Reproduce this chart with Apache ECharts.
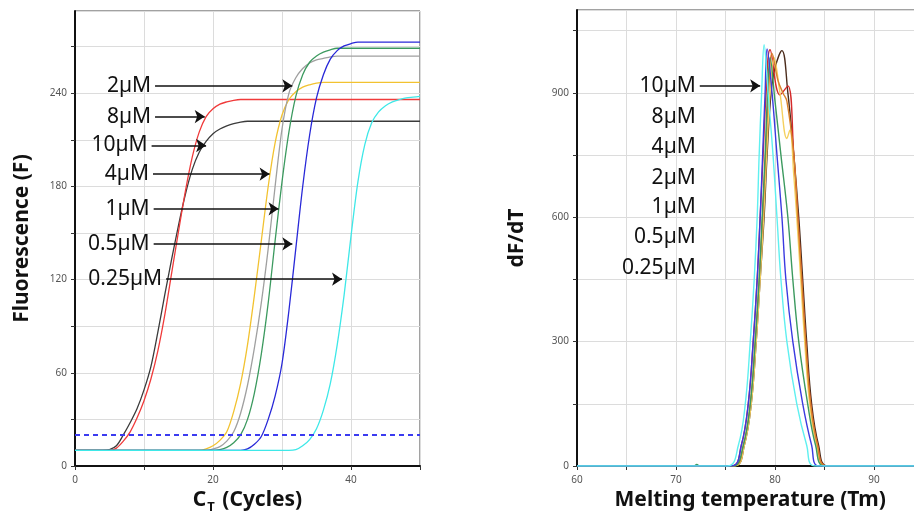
<!DOCTYPE html>
<html>
<head>
<meta charset="utf-8">
<script src="https://cdn.jsdelivr.net/npm/echarts@6/dist/echarts.min.js"></script>
<style>
  html, body { margin: 0; background: #fff; }
  #main { width: 914px; height: 514px; }
</style>
</head>
<body>
<div id="main"></div>
<script>
// concentrations, same order for both panels
const concs = ['10µM', '8µM', '4µM', '2µM', '1µM', '0.5µM', '0.25µM'];

// amplification curves: [cycle, fluorescence]
const amp10 = [[0,10],[4,10],[5,10.5],[6,13],[7,20],[8,28],[9,37],[10,49],[11,64],[12,86],[13,110],[14,133],[15,155],[16,175],[17,191],[18,202],[19,209],[20,214],[21,217],[22,219],[23,220.5],[24,221.5],[25,222],[50,222]];
const amp8 = [[0,10],[5,10],[6,11.5],[7,16],[8,22],[9,31],[10,42],[11,56],[12,74],[13,97],[14,124],[15,151],[16,177],[17,199],[18,215],[19,225],[20,230],[21,233],[22,234.5],[23,235.5],[24,236],[50,236]];
const amp4 = [[0,10],[18,10],[19,11],[20,13],[21,16.5],[22,22],[23,35],[24,53],[25,78],[26,110],[27,145],[28,180],[29,208],[30,226],[31,236],[32,241],[33,244],[34,245.5],[35,246.5],[36,247],[50,247]];
const amp2 = [[0,10],[19,10],[20,11],[21,12.5],[22,16],[23,22],[24,34],[25,52],[26,76],[27,105],[28,140],[29,180],[30,217],[31,240],[32,250],[33,256],[34,259.5],[35,261.5],[36,262.5],[37,263.5],[38,264],[50,264]];
const amp1 = [[0,10],[20,10],[21,10.5],[22,12],[23,15],[24,20],[25,30],[26,47],[27,72],[28,105],[29,145],[30,183],[31,215],[32,238],[33,252],[34,260],[35,264],[36,266.5],[37,268],[38,269],[50,269]];
const amp05 = [[0,10],[24,10],[25,11],[26,14],[27,19],[28,30],[29,45],[30,66],[31,100],[32,140],[33,180],[34,213],[35,237],[36,252],[37,262],[38,267.5],[39,270.5],[40,272],[41,273],[50,273]];
const amp025 = [[0,10],[31,10],[32,10.5],[33,13],[34,17],[35,24],[36,36],[37,53],[38,78],[39,110],[40,148],[41,183],[42,207],[43,221],[44,228],[45,232],[46,234.5],[47,236],[48,237],[49,237.5],[50,238]];
const threshold = 20;

// melt curves: [temperature, dF/dT]
const melt10 = [[60,0],[75.9,0],[76.9,50],[77.6,150],[78.1,300],[78.5,450],[78.9,600],[79.2,750],[79.6,900],[80,960],[80.7,1002],[81.3,900],[81.9,750],[82.4,600],[82.8,450],[83.2,300],[83.7,150],[84.4,50],[85.3,0],[95,0]];
const melt8 = [[60,0],[75.6,0],[76.6,50],[77.3,150],[77.8,300],[78.2,450],[78.5,600],[78.8,750],[79.1,900],[79.5,1004],[80.5,895],[81.3,917],[81.9,750],[82.3,600],[82.7,450],[83.1,300],[83.6,150],[84.3,50],[85.2,0],[95,0]];
const melt4 = [[60,0],[75.9,0],[76.9,50],[77.6,150],[78.1,300],[78.5,450],[78.85,600],[79.15,750],[79.5,900],[79.9,985],[80.5,900],[81.2,790],[81.5,810],[81.9,700],[82.2,600],[82.6,450],[83,300],[83.5,150],[84.2,50],[85,0],[95,0]];
const melt2 = [[60,0],[75.8,0],[76.8,50],[77.5,150],[78,300],[78.4,450],[78.75,600],[79.05,750],[79.35,900],[79.7,995],[80.3,930],[80.8,900],[81.2,880],[81.9,750],[82.3,600],[82.7,450],[83.1,300],[83.6,150],[84.3,50],[85.2,0],[95,0]];
const melt1 = [[60,0],[71.8,0],[72.1,4],[72.4,0],[75.8,0],[76.8,50],[77.5,150],[78,300],[78.4,450],[78.7,600],[79,750],[79.25,900],[79.5,985],[80,880],[80.6,750],[81.3,600],[81.8,450],[82.4,300],[83.3,150],[84.1,50],[85,0],[95,0]];
const melt05 = [[60,0],[75.6,0],[76.6,50],[77.3,150],[77.8,300],[78.2,450],[78.5,600],[78.75,750],[79,900],[79.2,1006],[79.7,900],[80.2,750],[80.7,600],[81.1,450],[81.8,300],[82.8,150],[83.7,50],[84.4,0],[95,0]];
const melt025 = [[60,0],[75.2,0],[76.3,50],[77,150],[77.5,300],[77.9,450],[78.2,600],[78.4,750],[78.65,900],[78.9,1016],[79.3,900],[79.8,750],[80.2,600],[80.6,450],[81.2,300],[82.2,150],[83.2,50],[84,0],[95,0]];

const ampData = [amp10, amp8, amp4, amp2, amp1, amp05, amp025];
const meltData = [melt10, melt8, melt4, melt2, melt1, melt05, melt025];
const ampColors = ['#3b3b3b', '#f03a3a', '#f2c230', '#a0a0a0', '#3c9a5f', '#2828d8', '#3ee8e8'];
const meltColors = ['#4b2c1c', '#d42a2a', '#f5d060', '#d9822b', '#3c9a5f', '#3a3ae0', '#5ff0f0'];

// annotation placement (label, y, arrow start x, arrow end x) in data units
const ampNotes = [
  ['2µM', 244.8, 11.6, 31.5],
  ['8µM', 225, 11.6, 18.8],
  ['10µM', 206.4, 11.1, 19.0],
  ['4µM', 188, 11.3, 28.2],
  ['1µM', 165.6, 11.4, 29.5],
  ['0.5µM', 143, 11.4, 31.5],
  ['0.25µM', 120.3, 13.2, 38.7]
];
const meltArrow = ['10µM', 917, 72.4, 78.5];
const meltNoteX = 72.4;
const meltNoteY = [842, 770, 695, 625, 553, 478];

const chart = echarts.init(document.getElementById('main'));

const labelFont = { fontFamily: 'Noto Sans', fontSize: 10, color: '#555' };
const titleFont = { fontFamily: 'Noto Sans', fontSize: 21, fontWeight: 'bold', color: '#111' };
const noteFont = { fontFamily: 'Noto Sans', fontSize: 21, color: '#111' };
const gridLine = { lineStyle: { color: '#dcdcdc', width: 1 } };
const axisLine = { lineStyle: { color: '#111', width: 2 } };
const tick = { show: true, length: 4, lineStyle: { color: '#333' } };

const series = [];
ampData.forEach((d, i) => {
  series.push({
    name: concs[i], type: 'line', xAxisIndex: 0, yAxisIndex: 0,
    data: d, showSymbol: false, smooth: 0.3,
    lineStyle: { color: ampColors[i], width: 1.3 }
  });
});
meltData.forEach((d, i) => {
  series.push({
    name: 'melt ' + concs[i], type: 'line', xAxisIndex: 1, yAxisIndex: 1,
    data: d, showSymbol: false, smooth: 0.4,
    lineStyle: { color: meltColors[i], width: 1.4 }
  });
});

// threshold + arrows on the left panel
series.push({
  type: 'line', xAxisIndex: 0, yAxisIndex: 0, data: [], silent: true,
  markLine: {
    silent: true, animation: false, symbol: ['none', 'none'],
    label: { show: false },
    lineStyle: { color: '#3b3bf0', width: 2, type: [5, 4] },
    data: [{ yAxis: threshold }]
  }
});
series.push({
  type: 'line', xAxisIndex: 0, yAxisIndex: 0, data: [], silent: true,
  markLine: {
    silent: true, animation: false,
    symbol: ['none', 'arrow'], symbolSize: 10,
    lineStyle: { color: '#111', width: 1.5, type: 'solid' },
    label: Object.assign({ show: true, position: 'start', distance: 4, formatter: '{b}' }, noteFont),
    data: ampNotes.map(n => [{ coord: [n[2], n[1]], name: n[0] }, { coord: [n[3], n[1]] }])
  }
});
// arrow + labels on the right panel
series.push({
  type: 'line', xAxisIndex: 1, yAxisIndex: 1, data: [], silent: true,
  markLine: {
    silent: true, animation: false,
    symbol: ['none', 'arrow'], symbolSize: 10,
    lineStyle: { color: '#111', width: 1.5, type: 'solid' },
    label: Object.assign({ show: true, position: 'start', distance: 4, formatter: '{b}' }, noteFont),
    data: [[{ coord: [meltArrow[2], meltArrow[1]], name: meltArrow[0] }, { coord: [meltArrow[3], meltArrow[1]] }]]
  },
  markPoint: {
    silent: true, animation: false, symbol: 'circle', symbolSize: 0,
    label: Object.assign({ show: true, position: 'left', distance: 4, formatter: '{b}' }, noteFont),
    data: meltNoteY.map((y, i) => ({ coord: [meltNoteX, y], name: concs[i + 1] }))
  }
});

const option = {
  animation: false,
  backgroundColor: '#fff',
  grid: [
    { left: 75, top: 11, width: 345, height: 455, show: true, borderColor: '#444', borderWidth: 1, outerBoundsMode: 'none', containLabel: false },
    { left: 577, top: 10, width: 346.5, height: 456, show: true, borderColor: '#444', borderWidth: 1, outerBoundsMode: 'none', containLabel: false }
  ],
  xAxis: [
    {
      gridIndex: 0, type: 'value', min: 0, max: 50, interval: 10,
      name: '{a|C}{s|T}{a| (Cycles)}', nameLocation: 'middle', nameGap: 17,
      nameTextStyle: { rich: {
        a: titleFont,
        s: { fontFamily: 'Noto Sans', fontSize: 13, fontWeight: 'bold', color: '#111', padding: [14, 2, 0, 1] }
      } },
      axisLine: axisLine, axisTick: tick, splitLine: gridLine,
      axisLabel: Object.assign({ margin: 9, formatter: v => (v % 20 === 0 ? String(v) : '') }, labelFont)
    },
    {
      gridIndex: 1, type: 'value', min: 60, max: 95, interval: 5,
      name: 'Melting temperature (Tm)', nameLocation: 'middle', nameGap: 19,
      nameTextStyle: titleFont,
      axisLine: axisLine, axisTick: tick, splitLine: gridLine,
      axisLabel: Object.assign({ margin: 9, formatter: v => (v % 10 === 0 ? String(v) : '') }, labelFont)
    }
  ],
  yAxis: [
    {
      gridIndex: 0, type: 'value', min: 0, max: 293, interval: 30,
      name: 'Fluorescence (F)', nameLocation: 'middle', nameGap: 42,
      nameTextStyle: titleFont,
      axisLine: axisLine, axisTick: tick, splitLine: gridLine,
      axisLabel: Object.assign({ margin: 8, showMaxLabel: false, formatter: v => (v % 60 === 0 ? String(v) : '') }, labelFont)
    },
    {
      gridIndex: 1, type: 'value', min: 0, max: 1100, interval: 150,
      name: 'dF/dT', nameLocation: 'middle', nameGap: 49,
      nameTextStyle: titleFont,
      axisLine: axisLine, axisTick: tick, splitLine: gridLine,
      axisLabel: Object.assign({ margin: 8, showMaxLabel: false, formatter: v => (v % 300 === 0 ? String(v) : '') }, labelFont)
    }
  ],
  series: series
};

chart.setOption(option);
</script>
</body>
</html>
